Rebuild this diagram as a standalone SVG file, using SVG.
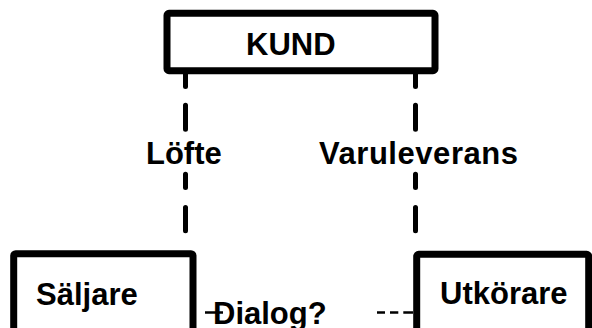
<svg xmlns="http://www.w3.org/2000/svg" width="592" height="328" viewBox="0 0 592 328">
  <style>
    .box { fill: #ffffff; stroke: #000000; stroke-width: 7; stroke-linejoin: round; }
    .lbl { font-family: "Liberation Sans", Arial, sans-serif; font-weight: bold; font-size: 31px; fill: #000000; }
    .link { fill: none; stroke: #000000; stroke-width: 5; stroke-linecap: round; }
    .thin { fill: none; stroke: #000000; stroke-width: 2.5; }
  </style>
  <rect width="592" height="328" fill="#ffffff"/>

  <!-- connectors -->
  <g id="connectors">
    <!-- KUND to Säljare, labelled Löfte -->
    <path class="link" d="M185.5 74 V86.5 M185.5 105.2 V129.2 M185.5 174.2 V187.5 M185.5 207.5 V230.8"/>
    <!-- KUND to Utkörare, labelled Varuleverans -->
    <path class="link" d="M415.5 74 V86.5 M415.5 105.2 V129.2 M415.5 174.2 V187.5 M415.5 207.5 V230.8"/>
    <!-- Säljare to Utkörare, labelled Dialog? -->
    <path class="thin" d="M205 312.5 H223 M377 312.5 H385 M390 312.5 H398.3 M403.3 312.5 H413"/>
  </g>

  <g id="kund">
    <rect class="box" x="167" y="13.3" width="268" height="57.4" rx="2"/>
    <text class="lbl" x="246" y="55">KUND</text>
  </g>

  <g id="saljare">
    <rect class="box" x="13.7" y="253.7" width="179.3" height="90" rx="2"/>
    <text class="lbl" x="36" y="304.5">Säljare</text>
  </g>

  <g id="utkorare">
    <rect class="box" x="416.7" y="254.3" width="172" height="90" rx="2"/>
    <text class="lbl" x="440" y="304">Utkörare</text>
  </g>

  <g id="labels">
    <text class="lbl" x="146" y="163.5">Löfte</text>
    <text class="lbl" x="319" y="163.5" textLength="199" lengthAdjust="spacing">Varuleverans</text>
    <text class="lbl" x="213" y="323.5">Dialog?</text>
  </g>
</svg>
